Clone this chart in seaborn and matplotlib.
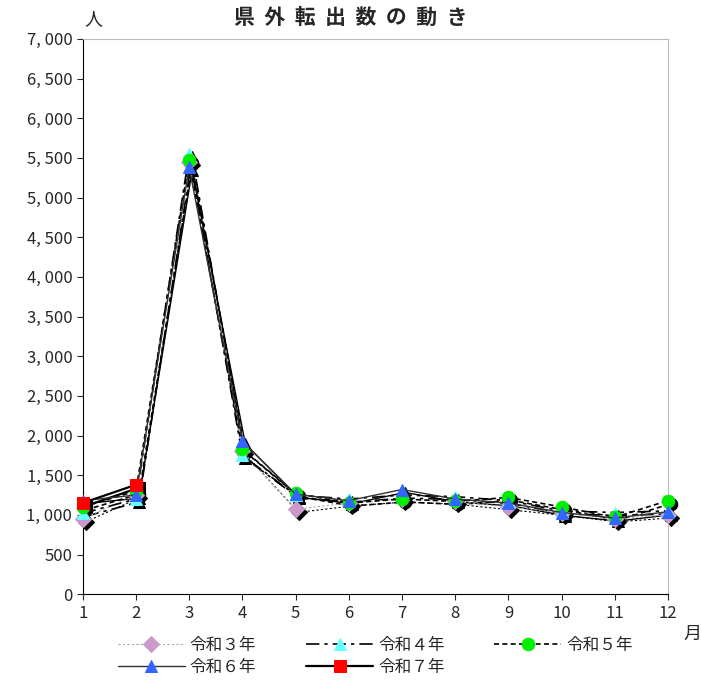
import matplotlib
matplotlib.use("Agg")
import matplotlib.pyplot as plt
import matplotlib.transforms as mtrans
import seaborn as sns
import pandas as pd

sns.set_style("white")
plt.rcParams['font.family'] = ['Noto Sans CJK JP', 'DejaVu Sans']

months = list(range(1, 13))
r3 = [950, 1250, 5450, 1800, 1070, 1150, 1200, 1170, 1100, 1030, 950, 1000]
r4 = [1020, 1200, 5550, 1750, 1250, 1200, 1250, 1230, 1180, 1050, 1030, 1050]
r5 = [1100, 1300, 5470, 1830, 1270, 1150, 1200, 1170, 1220, 1100, 970, 1180]
r6 = [1180, 1250, 5380, 1930, 1260, 1180, 1320, 1200, 1150, 1030, 960, 1040]
r7 = [1150, 1380]
labels = ['令和３年', '令和４年', '令和５年', '令和６年', '令和７年']

fig, ax = plt.subplots(figsize=(7.01, 6.83), dpi=100)
fig.subplots_adjust(left=0.118, right=0.953, top=0.943, bottom=0.13)

specs = [
    (r3, dict(color='#aaaaaa', lw=0.8, ls=(0, (2, 2)), marker='D', ms=8, mfc='#cc99cc', mec='#cc99cc')),
    (r4, dict(color='black', lw=1.2, ls=(0, (8, 3, 2, 3)), marker='^', ms=9, mfc='#66ffff', mec='#66ffff')),
    (r5, dict(color='black', lw=1.2, ls=(0, (3, 2)), marker='o', ms=9, mfc='#00ee00', mec='#00ee00')),
    (r6, dict(color='#333333', lw=1.0, ls='-', marker='^', ms=9, mfc='#3366ff', mec='#3366ff')),
    (r7, dict(color='black', lw=1.6, ls='-', marker='s', ms=9, mfc='#ff0000', mec='#ff0000')),
]
shadow_tr = mtrans.offset_copy(ax.transData, fig=fig, x=3, y=-3, units='dots')
handles = []
for (vals, st), lab in zip(specs, labels):
    df = pd.DataFrame({'m': months[:len(vals)], 'v': vals})
    sh = dict(st); sh.update(color='black', mfc='black', mec='black')
    sns.lineplot(data=df, x='m', y='v', ax=ax, legend=False, transform=shadow_tr, clip_on=False, zorder=2, **sh)
    sns.lineplot(data=df, x='m', y='v', ax=ax, legend=False, clip_on=False, zorder=3, **st)
    handles.append(ax.lines[-1])

ax.set_xlim(1, 12)
ax.set_ylim(0, 7000)
ax.set_xticks(months)
ax.set_yticks(range(0, 7001, 500))
ax.set_yticklabels([f'{v:,}'.replace(',', ', ') for v in range(0, 7001, 500)])
ax.tick_params(axis='both', labelsize=12, length=4, direction='out', left=True, bottom=True)
ax.set_xlabel('')
ax.set_ylabel('')
for s in ['top', 'right']:
    ax.spines[s].set_color('#bbbbbb')
for s in ['left', 'bottom']:
    ax.spines[s].set_color('black')
fig.text(0.5, 0.965, '県  外  転  出  数  の  動  き', fontsize=15, fontweight='bold', ha='center')
fig.text(0.12, 0.965, '人', fontsize=13)
fig.text(0.975, 0.065, '月', fontsize=13)
order = [0, 3, 1, 4, 2]
ax.legend([handles[i] for i in order], [labels[i] for i in order],
          loc='upper center', bbox_to_anchor=(0.5, -0.05), ncol=3, frameon=False,
          fontsize=12, handlelength=4, columnspacing=3, handletextpad=0.3, labelspacing=0.3)
fig.savefig('out.png')
